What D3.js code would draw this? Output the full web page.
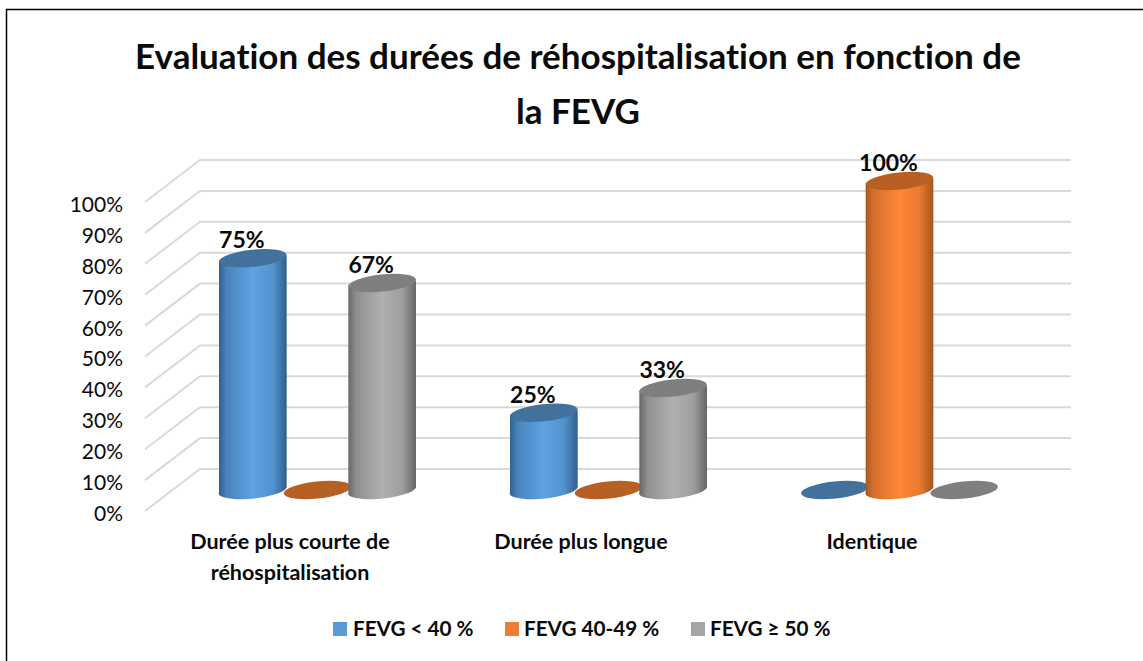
<!DOCTYPE html>
<html><head><meta charset="utf-8">
<style>html,body{margin:0;padding:0;background:#fff}svg{display:block}text{font-family:Lato,"Open Sans",sans-serif;fill:#0a0a0a;font-variant-ligatures:none}</style>
<script src="https://cdn.jsdelivr.net/npm/d3@7"></script></head><body><svg id="c" width="1143" height="661"></svg>
<script>
const categories=[["Durée plus courte de","réhospitalisation"],["Durée plus longue"],["Identique"]];
const series=["FEVG < 40 %","FEVG 40-49 %","FEVG ≥ 50 %"];
const fevgLow=[0.75,0.25,0];
const fevgMid=[0,0,1];
const fevgHigh=[0.67,0.33,0];
const shownLabels=[["75%",null,"67%"],["25%",null,"33%"],[null,"100%",null]];
const titleLines=["Evaluation des durées de réhospitalisation en fonction de","la FEVG"];
const seriesValues=[fevgLow,fevgMid,fevgHigh];
const colors=["#5B9BD5","#ED7D31","#A5A5A5"];
const light=["#5ea3e3","#ff8636","#b0b0b0"];
const dark=["#2f5f8c","#a3561f","#666666"];
const topCol=["#41719c","#b85f24","#7f7f7f"];

const svg=d3.select("#c");
svg.append("path").attr("d","M6.5,661V9.5H1143").attr("fill","none").attr("stroke","#000").attr("stroke-width",1.5);

const defs=svg.append("defs");
colors.forEach((c,i)=>{
  const g=defs.append("linearGradient").attr("id","g"+i);
  [[0,dark[i]],[0.12,d3.interpolateRgb(dark[i],light[i])(0.55)],[0.5,light[i]],[0.8,d3.interpolateRgb(dark[i],light[i])(0.75)],[1,dark[i]]]
    .forEach(([o,col])=>g.append("stop").attr("offset",o).attr("stop-color",col));
});

const dx=27.5,dy=21;
const y=d3.scaleLinear().domain([0,1]).range([490,181]);
const x=d3.scaleBand().domain(d3.range(categories.length)).range([172,1045]);
const sub=d3.scaleBand().domain(d3.range(series.length)).range([-97,97]);
const ticks=d3.range(0,1.0001,0.1);
const grid=svg.append("g").attr("stroke","#d9d9d9").attr("stroke-width",2).attr("fill","none");
ticks.forEach(t=>{
  const yy=y(t);
  grid.append("path").attr("d",d3.line()([[145,yy+dy],[200,yy-dy],[1071,yy-dy]]));
});

const front=d3.scaleLinear().domain([0,1]).range([490+dy,181+dy]);
const axis=svg.append("g").attr("transform","translate(130,1.5)")
  .call(d3.axisLeft(front).tickValues(ticks).tickSize(0).tickPadding(7).tickFormat(d3.format(".0%")));
axis.select(".domain").remove();
axis.selectAll("text").style("font-size","21px").style("font-family","Lato").attr("dy","0.38em");

const rx=34,ry=8.5,rot=-6;
const marks=svg.append("g");
const drawOrder=[[0,0],[0,1],[0,2],[1,0],[1,1],[1,2],[2,0],[2,2],[2,1]];
drawOrder.forEach(([ci,si])=>{
  const v=seriesValues[si][ci];
  const cx=x(ci)+x.bandwidth()/2+sub(si)+sub.bandwidth()/2;
  const base=y(0),top=y(v);
  const g=marks.append("g");
  if(v>0){
    const a=rot*Math.PI/180;
    const ex=Math.sqrt(rx*rx*Math.cos(a)**2+ry*ry*Math.sin(a)**2);
    const L=cx-ex,R=cx+ex;
    const tilt=ex*Math.tan(a)*0.6;
    g.append("path").attr("fill",`url(#g${si})`)
     .attr("d",`M${L},${top-tilt} L${R},${top+tilt} L${R},${base+tilt} A${rx},${ry} ${rot} 0 1 ${L},${base-tilt} Z`);
  }
  g.append("ellipse").attr("cx",cx).attr("cy",top).attr("rx",rx).attr("ry",ry)
   .attr("transform",`rotate(${rot} ${cx} ${top})`).attr("fill",topCol[si]);
});

const labels=svg.append("g").attr("text-anchor","middle").attr("font-weight",700).attr("font-size",23);
shownLabels.forEach((row,ci)=>row.forEach((lab,si)=>{
  if(!lab)return;
  const cx=x(ci)+x.bandwidth()/2+sub(si)+sub.bandwidth()/2;
  labels.append("text").attr("x",cx-11).attr("y",y(seriesValues[si][ci])-10).text(lab);
}));

const catG=svg.append("g").attr("text-anchor","middle").attr("font-weight",700).attr("font-size",21.5);
categories.forEach((lines,ci)=>lines.forEach((l,k)=>{
  catG.append("text").attr("x",x(ci)+x.bandwidth()/2-27.5).attr("y",549+k*31).text(l);
}));

const tG=svg.append("g").attr("text-anchor","middle").attr("font-weight",700).attr("font-size",35);
titleLines.forEach((l,k)=>tG.append("text").attr("x",578).attr("y",69+k*55).text(l));

const legX=[333,505,691],legT=[353,524,710];
const leg=svg.append("g");
series.forEach((s,i)=>{
  leg.append("rect").attr("x",legX[i]).attr("y",622).attr("width",14).attr("height",14).attr("fill",colors[i]);
  leg.append("text").attr("x",legT[i]).attr("y",636).attr("font-weight",700).attr("font-size",20.7).text(s);
});
</script></body></html>
